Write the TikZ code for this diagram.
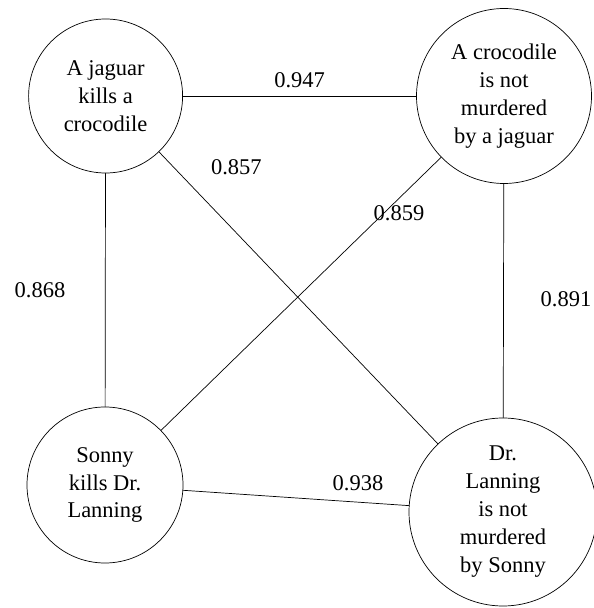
\documentclass[tikz,border=0pt]{standalone}
\usepackage{fontspec}
\setmainfont{Liberation Serif}
\begin{document}
\begin{tikzpicture}[line cap=round,line join=round,x=1.0cm,y=1.0cm,
		prop/.style={circle,draw,line width=0.5pt,inner sep=0pt,align=center,font=\fontsize{16}{19.9}\selectfont},
		weight/.style={font=\fontsize{16}{19.9}\selectfont,inner sep=0pt}]
		\useasboundingbox (0.,0.) rectangle (14.85,15.2);
		\node[prop,minimum size=3.85cm] (jk) at (2.64,12.8) {A jaguar\\kills a\\crocodile};
		\node[prop,minimum size=4.375cm] (cn) at (12.6,12.8) {A crocodile\\is not\\murdered\\by a jaguar};
		\node[prop,minimum size=3.9cm] (sk) at (2.625,3.075) {Sonny\\kills Dr.\\Lanning};
		\node[prop,minimum size=4.7cm] (ln) at (12.575,2.4) {Dr.\\Lanning\\is not\\murdered\\by Sonny};
		\draw [line width=0.5pt] (jk)-- (cn);
		\draw [line width=0.5pt] (jk)-- (sk);
		\draw [line width=0.5pt] (jk)-- (ln);
		\draw [line width=0.5pt] (cn)-- (sk);
		\draw [line width=0.5pt] (cn)-- (ln);
		\draw [line width=0.5pt] (sk)-- (ln);
		\node[weight] (w1) at (7.49,13.2) {0.947};
		\node[weight] (w2) at (5.91,11.025) {0.857};
		\node[weight] (w3) at (9.975,9.875) {0.859};
		\node[weight] (w4) at (1.0,7.95) {0.868};
		\node[weight] (w5) at (14.15,7.71) {0.891};
		\node[weight] (w6) at (8.95,3.13) {0.938};
	\end{tikzpicture}
\end{document}
